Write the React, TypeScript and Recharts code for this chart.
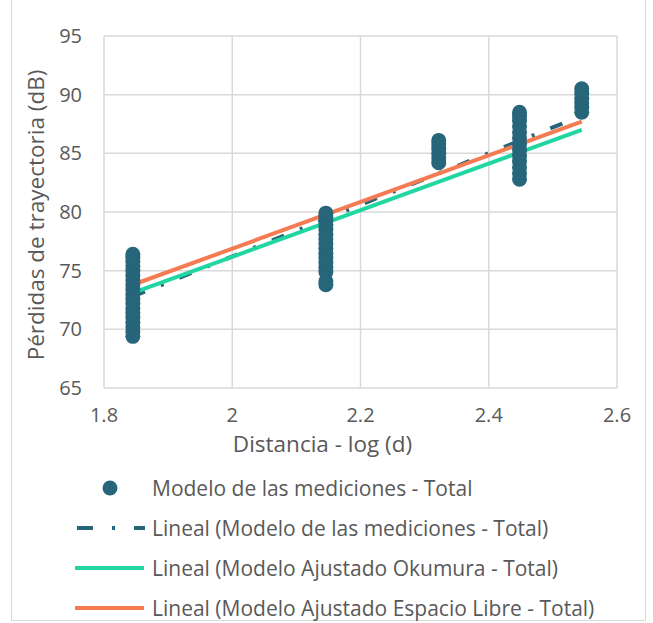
import { CartesianGrid, ComposedChart, Line, Scatter, XAxis, YAxis } from 'recharts';

const DOT_COLOR = '#27667a';
const OKUMURA_COLOR = '#22d6a2';
const FREE_SPACE_COLOR = '#f47b52';
const TEXT_COLOR = '#595959';
const FONT = '"Open Sans", sans-serif';

// log(d) positions of the measurement points
const distances = [1.845, 2.146, 2.322, 2.448, 2.545];

// measured path loss (dB) at each distance
const lossAt1845 = [69.4, 69.8, 70.2, 70.6, 71.0, 71.4, 71.8, 72.2, 72.6, 73.0, 73.4, 73.8, 74.2, 74.6, 75.0, 75.4, 75.8, 76.1, 76.4];
const lossAt2146 = [73.8, 74.1, 74.9, 75.3, 75.7, 76.1, 76.5, 76.9, 77.3, 77.7, 78.1, 78.5, 78.9, 79.3, 79.6, 79.9];
const lossAt2322 = [84.2, 84.6, 85.0, 85.4, 85.8, 86.1];
const lossAt2448 = [82.8, 83.3, 83.8, 84.3, 84.8, 85.3, 85.8, 86.3, 86.8, 87.3, 87.8, 88.2, 88.5];
const lossAt2545 = [88.5, 88.9, 89.3, 89.7, 90.1, 90.5];

// linear trend end points
const trendX = [1.845, 2.545];
const trendMeasured = [72.8, 88.2];
const trendOkumura = [73.1, 87.0];
const trendFreeSpace = [73.8, 87.7];

const xTicks = [1.8, 2, 2.2, 2.4, 2.6];
const yTicks = [65, 70, 75, 80, 85, 90, 95];

const measurements = [lossAt1845, lossAt2146, lossAt2322, lossAt2448, lossAt2545].flatMap((vals, i) =>
  vals.map((y) => ({ x: distances[i], y })),
);

const toLine = (ys: number[]) => trendX.map((x, i) => ({ x, y: ys[i] }));

const tickStyle = { fill: TEXT_COLOR, fontSize: 20, fontFamily: FONT };
const titleStyle = { fill: TEXT_COLOR, fontSize: 22.5, fontFamily: FONT };

const legendItems = [
  { label: 'Modelo de las mediciones - Total', kind: 'dot' },
  { label: 'Lineal (Modelo de las mediciones - Total)', kind: 'dashdot' },
  { label: 'Lineal (Modelo Ajustado Okumura - Total)', kind: 'okumura' },
  { label: 'Lineal (Modelo Ajustado Espacio Libre - Total)', kind: 'free' },
];

function LegendIcon({ kind }: { kind: string }) {
  return (
    <svg width={72} height={20}>
      {kind === 'dot' && <circle cx={35} cy={10} r={7.5} fill={DOT_COLOR} />}
      {kind === 'dashdot' && (
        <line x1={2} y1={10} x2={70} y2={10} stroke={DOT_COLOR} strokeWidth={4} strokeDasharray="16 19 3 19" />
      )}
      {kind === 'okumura' && <line x1={0} y1={10} x2={69} y2={10} stroke={OKUMURA_COLOR} strokeWidth={4} />}
      {kind === 'free' && <line x1={0} y1={10} x2={69} y2={10} stroke={FREE_SPACE_COLOR} strokeWidth={4} />}
    </svg>
  );
}

export default function App() {
  return (
    <div style={{ position: 'absolute', left: 0, top: 0, width: 646, height: 621, background: '#fff' }}>
      <div
        style={{
          position: 'absolute',
          left: 11,
          top: -2,
          width: 635,
          height: 623,
          border: '1px solid #d9d9d9',
          boxSizing: 'border-box',
        }}
      />
      <div style={{ position: 'absolute', left: 0, top: 0 }}>
        <ComposedChart width={646} height={621} margin={{ top: 36, right: 29, left: 0, bottom: 163 }}>
          <CartesianGrid stroke="#d9d9d9" strokeWidth={1.5} />
          <XAxis
            type="number"
            dataKey="x"
            domain={[1.8, 2.6]}
            ticks={xTicks}
            tickFormatter={(v: number) => String(v)}
            axisLine={false}
            tickLine={false}
            tick={tickStyle}
            tickMargin={14}
            height={70}
            label={{ value: 'Distancia - log (d)', position: 'insideBottom', offset: 6, dx: -38, style: titleStyle }}
          />
          <YAxis
            type="number"
            dataKey="y"
            domain={[65, 95]}
            ticks={yTicks}
            axisLine={false}
            tickLine={false}
            tick={tickStyle}
            tickMargin={16}
            width={104}
            label={{
              value: 'Pérdidas de trayectoria (dB)',
              angle: -90,
              position: 'insideLeft',
              offset: 36,
              dy: 3,
              style: { ...titleStyle, textAnchor: 'middle' },
            }}
          />
          <Scatter
            data={measurements}
            fill={DOT_COLOR}
            shape={(p: any) => <circle cx={p.cx} cy={p.cy} r={7.5} fill={DOT_COLOR} />}
            isAnimationActive={false}
          />
          <Line data={toLine(trendMeasured)} dataKey="y" stroke={DOT_COLOR} strokeWidth={4} strokeDasharray="13 17 3 17" dot={false} isAnimationActive={false} />
          <Line data={toLine(trendOkumura)} dataKey="y" stroke={OKUMURA_COLOR} strokeWidth={4} dot={false} isAnimationActive={false} />
          <Line data={toLine(trendFreeSpace)} dataKey="y" stroke={FREE_SPACE_COLOR} strokeWidth={4} dot={false} isAnimationActive={false} />
        </ComposedChart>
      </div>
      <div style={{ position: 'absolute', left: 75, top: 468, fontFamily: FONT, fontSize: 21, color: TEXT_COLOR }}>
        {legendItems.map((item) => (
          <div key={item.label} style={{ display: 'flex', alignItems: 'center', height: 40 }}>
            <LegendIcon kind={item.kind} />
            <span style={{ marginLeft: 5, whiteSpace: 'nowrap' }}>{item.label}</span>
          </div>
        ))}
      </div>
    </div>
  );
}
